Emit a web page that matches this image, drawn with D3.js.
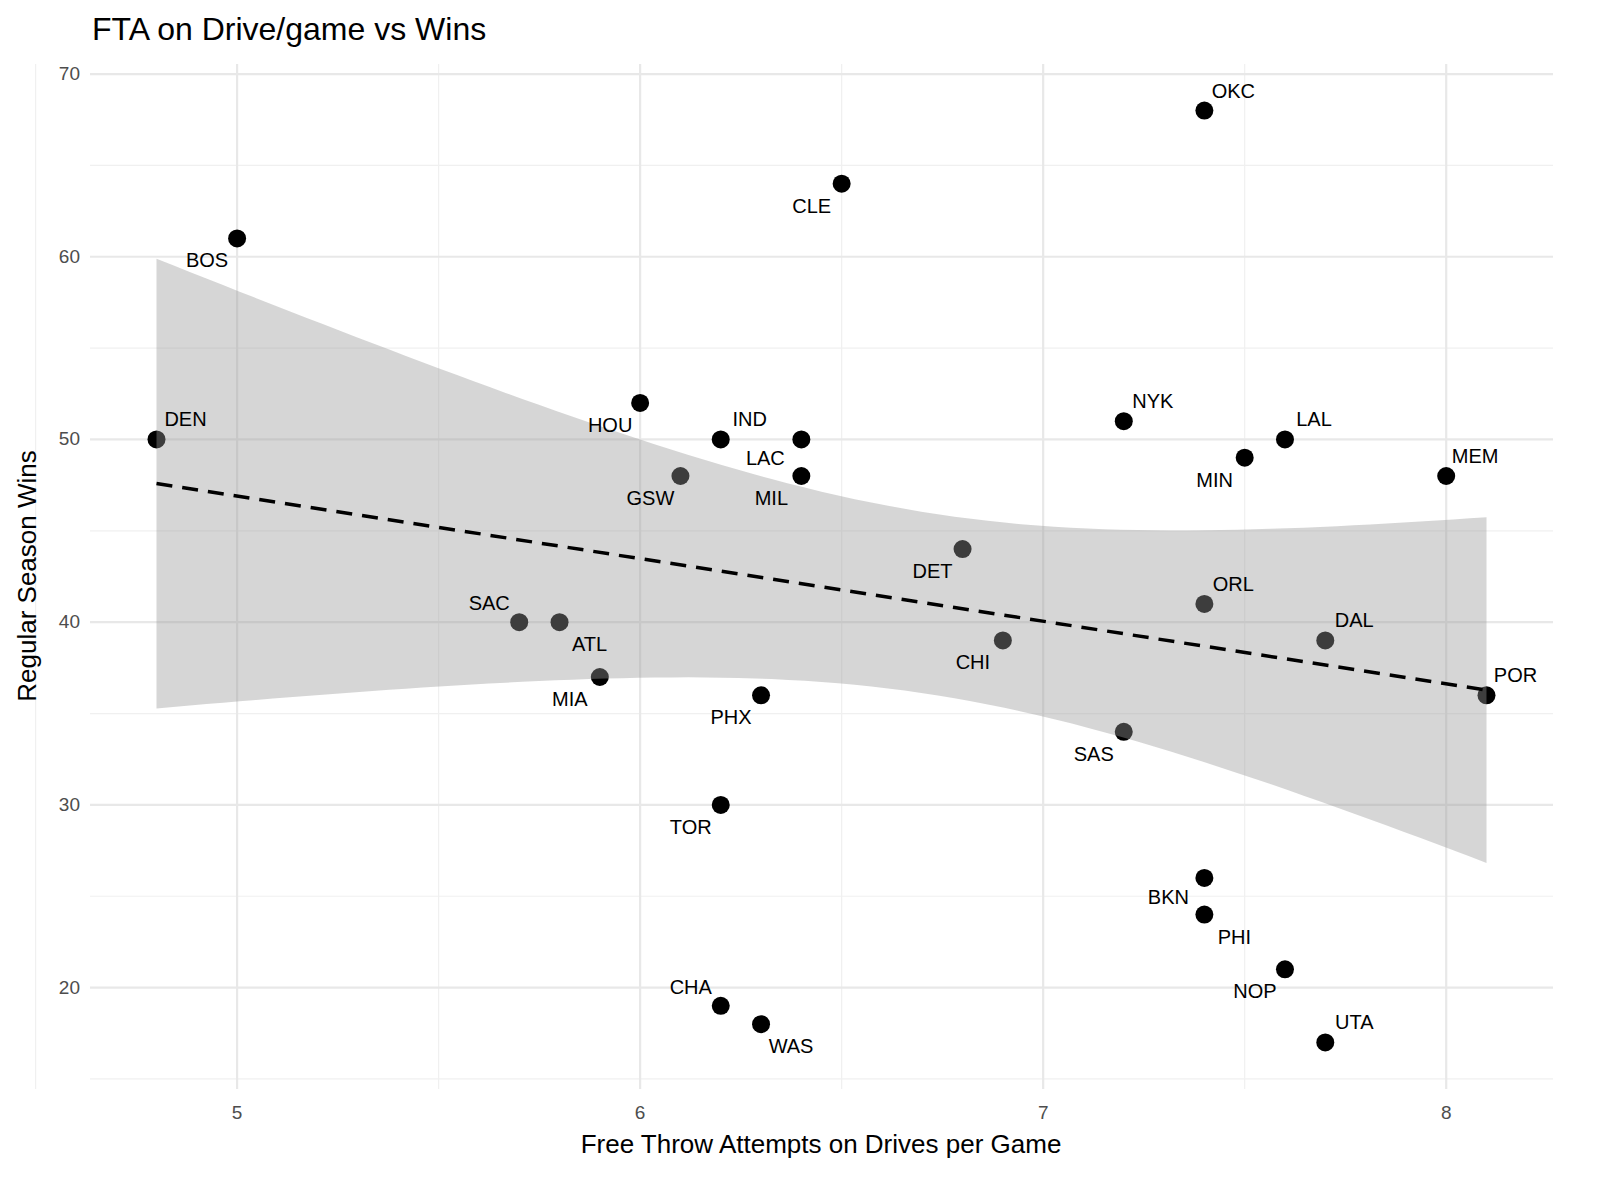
<!DOCTYPE html>
<html><head><meta charset="utf-8">
<script src="https://cdn.jsdelivr.net/npm/d3@7"></script>
<style>body{margin:0;background:#fff}</style>
</head><body><svg id="c" width="1600" height="1200"></svg>
<script>
const teams=["DEN","BOS","HOU","IND","GSW","LAC","MIL","CLE","SAC","ATL","MIA","PHX","TOR","CHA","WAS","DET","CHI","NYK","SAS","OKC","ORL","BKN","PHI","MIN","LAL","NOP","DAL","UTA","MEM","POR"];
const fta=[4.8,5.0,6.0,6.2,6.1,6.4,6.4,6.5,5.7,5.8,5.9,6.3,6.2,6.2,6.3,6.8,6.9,7.2,7.2,7.4,7.4,7.4,7.4,7.5,7.6,7.6,7.7,7.7,8.0,8.1];
const wins=[50,61,52,50,48,50,48,64,40,40,37,36,30,19,18,44,39,51,34,68,41,26,24,49,50,21,39,17,48,36];
const labelSide=["ur","dl","dl","ur","dl","dl2","dl","dl","ul","dr","dl","dl","dl","ul","dr","dl","dl","ur","dl","ur","ur","dl2","dr","dl","ur","dl","ur","ur","ur","ur"];
const xTicks=[5,6,7,8], yTicks=[20,30,40,50,60,70];
const xMinor=[4.5,5.5,6.5,7.5], yMinor=[15,25,35,45,55,65];

const svg=d3.select("#c");
const x=d3.scaleLinear().domain([4.635,8.265]).range([90,1553]);
const y=d3.scaleLinear().domain([14.45,70.55]).range([1089,64]);
const F="Liberation Sans, Arial, sans-serif";
const g=svg.append("g");
xMinor.forEach(v=>g.append("line").attr("x1",x(v)).attr("x2",x(v)).attr("y1",64).attr("y2",1089).attr("stroke","#f0f0f0").attr("stroke-width",1.2));
yMinor.forEach(v=>g.append("line").attr("y1",y(v)).attr("y2",y(v)).attr("x1",90).attr("x2",1553).attr("stroke","#f0f0f0").attr("stroke-width",1.2));
xTicks.forEach(v=>g.append("line").attr("x1",x(v)).attr("x2",x(v)).attr("y1",64).attr("y2",1089).attr("stroke","#e8e8e8").attr("stroke-width",2.2));
yTicks.forEach(v=>g.append("line").attr("y1",y(v)).attr("y2",y(v)).attr("x1",90).attr("x2",1553).attr("stroke","#e8e8e8").attr("stroke-width",2.2));
xTicks.forEach(v=>svg.append("text").attr("x",x(v)).attr("y",1119).attr("text-anchor","middle").attr("font-family",F).attr("font-size",19).attr("fill","#4d4d4d").text(v));
yTicks.forEach(v=>svg.append("text").attr("x",80).attr("y",y(v)+6).attr("text-anchor","end").attr("font-family",F).attr("font-size",19).attr("fill","#4d4d4d").text(v));

teams.forEach((t,i)=>svg.append("circle").attr("cx",x(fta[i])).attr("cy",y(wins[i])).attr("r",9).attr("fill","#000"));

const n=fta.length, mx=d3.mean(fta), my=d3.mean(wins);
let sxx=0,sxy=0; fta.forEach((v,i)=>{sxx+=(v-mx)**2; sxy+=(v-mx)*(wins[i]-my);});
const b=sxy/sxx, a=my-b*mx;
let sse=0; fta.forEach((v,i)=>{sse+=(wins[i]-a-b*v)**2;});
const s=Math.sqrt(sse/(n-2)), tq=2.048;
const x0=d3.min(fta), x1=d3.max(fta);
const grid=d3.range(0,81).map(k=>x0+(x1-x0)*k/80);
const band=grid.map(v=>{const se=s*Math.sqrt(1/n+(v-mx)**2/sxx);const f=a+b*v;return {v,lo:f-tq*se,hi:f+tq*se};});
svg.append("path").datum(band).attr("d",d3.area().x(d=>x(d.v)).y0(d=>y(d.lo)).y1(d=>y(d.hi))).attr("fill","#999").attr("opacity",0.4);
svg.append("line").attr("x1",x(x0)).attr("y1",y(a+b*x0)).attr("x2",x(x1)).attr("y2",y(a+b*x1)).attr("stroke","#000").attr("stroke-width",3.5).attr("stroke-dasharray","16,10");

const off={ur:[29,-20],dl:[-30,22],dl2:[-36,19],ul:[-30,-19],dr:[30,22]};
teams.forEach((t,i)=>{const o=off[labelSide[i]];svg.append("text").attr("x",x(fta[i])+o[0]).attr("y",y(wins[i])+o[1]+7).attr("text-anchor","middle").attr("font-family",F).attr("font-size",20).attr("fill","#000").text(t);});

svg.append("text").attr("x",92).attr("y",40).attr("font-family",F).attr("font-size",32).attr("fill","#000").text("FTA on Drive/game vs Wins");
svg.append("text").attr("x",821).attr("y",1153).attr("text-anchor","middle").attr("font-family",F).attr("font-size",26).text("Free Throw Attempts on Drives per Game");
svg.append("text").attr("transform","translate(36,576) rotate(-90)").attr("text-anchor","middle").attr("font-family",F).attr("font-size",26).text("Regular Season Wins");
</script></body></html>
